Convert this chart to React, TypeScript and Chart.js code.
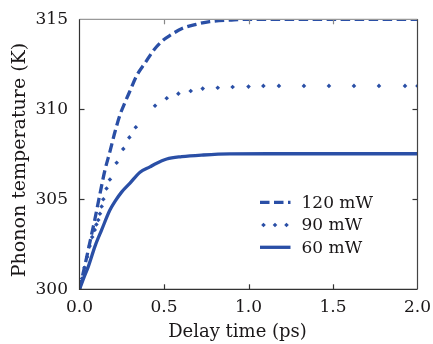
import { useEffect, useRef } from 'react';
import { Chart, registerables } from 'chart.js';

Chart.register(...registerables);

// 120 mW (dashed)
const times120 = [0, 0.03, 0.06, 0.09, 0.12, 0.15, 0.18, 0.21, 0.24, 0.27, 0.3, 0.34, 0.39, 0.44, 0.49, 0.54, 0.61, 0.69, 0.77, 0.9, 1.0, 1.5, 2.0];
const temps120 = [300, 301.25, 302.55, 303.85, 305.25, 306.6, 307.65, 308.75, 309.7, 310.4, 311.05, 311.9, 312.6, 313.3, 313.8, 314.13, 314.5, 314.72, 314.87, 314.96, 315, 315, 315];

// 90 mW (dotted markers)
const times90 = [0, 0.015, 0.03, 0.045, 0.06, 0.075, 0.09, 0.1, 0.111, 0.121, 0.131, 0.141, 0.16, 0.18, 0.22, 0.259, 0.295, 0.333, 0.447, 0.516, 0.585, 0.658, 0.729, 0.818, 0.906, 1.0, 1.088, 1.18, 1.328, 1.476, 1.624, 1.772, 1.926, 2.0];
const temps90 = [300, 300.6, 301.2, 301.8, 302.4, 302.9, 303.3, 303.6, 303.85, 304.2, 304.6, 305.0, 305.6, 306.1, 307.03, 307.8, 308.44, 309.0, 310.2, 310.61, 310.87, 311.02, 311.15, 311.2, 311.24, 311.26, 311.3, 311.3, 311.3, 311.3, 311.3, 311.3, 311.3, 311.3];

// 60 mW (solid)
const times60 = [0, 0.026, 0.052, 0.092, 0.131, 0.18, 0.215, 0.249, 0.299, 0.358, 0.417, 0.447, 0.516, 0.605, 0.733, 0.89, 1.12, 1.5, 2.0];
const temps60 = [300, 300.65, 301.26, 302.4, 303.3, 304.4, 304.95, 305.4, 305.9, 306.5, 306.8, 306.96, 307.24, 307.37, 307.46, 307.52, 307.53, 307.53, 307.53];

const seriesLabels = ['120 mW', '90 mW', '60 mW'];
const xTicks = [0, 0.5, 1.0, 1.5, 2.0];
const yTicks = [300, 305, 310, 315];
const xTitle = 'Delay time (ps)';
const yTitle = 'Phonon temperature (K)';

const BLUE = '#2a4fa6';
const FONT = 'DejaVu Serif';
const TEXT = '#1a1718';

const toPoints = (xs: number[], ys: number[]) => xs.map((x, i) => ({ x, y: ys[i] }));

const framePlugin = {
  id: 'framePlugin',
  afterDatasetsDraw(chart: any) {
    const { ctx, chartArea } = chart;
    const { left, right, top, bottom } = chartArea;
    const xs = chart.scales.x;
    const ys = chart.scales.y;
    ctx.save();
    ctx.lineWidth = 1.2;
    const tl = 5;
    xTicks.slice(1, -1).forEach((v) => {
      const px = Math.round(xs.getPixelForValue(v)) + 0.5;
      ctx.strokeStyle = '#333';
      ctx.beginPath();
      ctx.moveTo(px, bottom);
      ctx.lineTo(px, bottom - tl);
      ctx.stroke();
      ctx.strokeStyle = '#888';
      ctx.beginPath();
      ctx.moveTo(px, top);
      ctx.lineTo(px, top + tl);
      ctx.stroke();
    });
    yTicks.slice(1, -1).forEach((v) => {
      const py = Math.round(ys.getPixelForValue(v)) + 0.5;
      ctx.strokeStyle = '#333';
      ctx.beginPath();
      ctx.moveTo(left, py);
      ctx.lineTo(left + tl, py);
      ctx.stroke();
      ctx.beginPath();
      ctx.moveTo(right, py);
      ctx.lineTo(right - tl, py);
      ctx.stroke();
    });
    ctx.strokeStyle = '#999';
    ctx.beginPath();
    ctx.moveTo(left, top);
    ctx.lineTo(right, top);
    ctx.stroke();
    ctx.strokeStyle = '#444';
    ctx.beginPath();
    ctx.moveTo(right, top);
    ctx.lineTo(right, bottom);
    ctx.stroke();
    ctx.strokeStyle = '#333';
    ctx.beginPath();
    ctx.moveTo(left, top);
    ctx.lineTo(left, bottom);
    ctx.lineTo(right, bottom);
    ctx.stroke();

    // legend
    const lx0 = right - 157.5;
    const lx1 = right - 127;
    const tx = right - 116;
    const rows = [top + 183, top + 205.7, top + 228];
    chart.data.datasets.forEach((ds: any, i: number) => {
      const y = rows[i];
      ctx.strokeStyle = ds.borderColor;
      ctx.fillStyle = ds.borderColor;
      if (ds.showLine === false) {
        [lx0 + 3.5, lx0 + 15, lx0 + 26.5].forEach((cx) => {
          const r = 2.3;
          ctx.beginPath();
          ctx.moveTo(cx, y - r);
          ctx.lineTo(cx + r, y);
          ctx.lineTo(cx, y + r);
          ctx.lineTo(cx - r, y);
          ctx.closePath();
          ctx.fill();
        });
      } else {
        ctx.lineWidth = ds.borderWidth;
        ctx.setLineDash(ds.borderDash || []);
        ctx.beginPath();
        ctx.moveTo(lx0, y);
        ctx.lineTo(lx1, y);
        ctx.stroke();
        ctx.setLineDash([]);
      }
      ctx.fillStyle = TEXT;
      ctx.font = `17px "${FONT}"`;
      ctx.textBaseline = 'middle';
      ctx.textAlign = 'left';
      ctx.fillText(ds.label, tx, y + 1);
    });

    // axis titles
    ctx.fillStyle = TEXT;
    ctx.textAlign = 'center';
    ctx.textBaseline = 'alphabetic';
    ctx.font = `18px "${FONT}"`;
    ctx.fillText(xTitle, 237.5, 337);

    ctx.save();
    ctx.translate(25, 160);
    ctx.rotate(-Math.PI / 2);
    ctx.font = `19px "${FONT}"`;
    ctx.fillText(yTitle, 0, 0);
    ctx.restore();

    ctx.restore();
  },
};

export default function App() {
  const ref = useRef<HTMLCanvasElement | null>(null);
  useEffect(() => {
    document.body.style.margin = '0';
    if (!ref.current) return;
    const chart = new Chart(ref.current, {
      type: 'line',
      data: {
        datasets: [
          {
            label: seriesLabels[0],
            data: toPoints(times120, temps120),
            borderColor: BLUE,
            borderWidth: 3.3,
            borderDash: [9.5, 4.5],
            pointRadius: 0,
            cubicInterpolationMode: 'monotone',
            order: 1,
          },
          {
            label: seriesLabels[1],
            data: toPoints(times90, temps90),
            borderColor: BLUE,
            backgroundColor: BLUE,
            showLine: false,
            pointRadius: 2.3,
            pointBorderWidth: 0,
            pointStyle: 'rectRot',
            order: 2,
          },
          {
            label: seriesLabels[2],
            data: toPoints(times60, temps60),
            borderColor: BLUE,
            borderWidth: 3.3,
            pointRadius: 0,
            cubicInterpolationMode: 'monotone',
            order: 3,
          },
        ],
      } as any,
      options: {
        animation: false,
        responsive: false,
        maintainAspectRatio: false,
        layout: { padding: { left: 0, right: 15.5, top: 19.3, bottom: 0 } },
        plugins: { legend: { display: false }, tooltip: { enabled: false } },
        font: { family: FONT },
        scales: {
          x: {
            type: 'linear',
            min: 0,
            max: 2,
            grid: { display: false, drawTicks: false },
            border: { display: false },
            afterFit: (s: any) => { s.height = 54.7; },
            afterBuildTicks: (s: any) => { s.ticks = xTicks.map((v) => ({ value: v })); },
            ticks: {
              padding: 0,
              color: TEXT,
              font: { family: FONT, size: 17, lineHeight: 2.2 },
              callback: (v: any) => Number(v).toFixed(1),
              maxRotation: 0,
            },
            title: { display: false },
          },
          y: {
            type: 'linear',
            min: 300,
            max: 315,
            grid: { display: false, drawTicks: false },
            border: { display: false },
            afterFit: (s: any) => { s.width = 79.5; },
            afterBuildTicks: (s: any) => { s.ticks = yTicks.map((v) => ({ value: v })); },
            ticks: {
              padding: 11.5,
              color: TEXT,
              font: { family: FONT, size: 17, lineHeight: 0.9 },
              callback: (v: any) => String(v),
            },
            title: { display: false },
          },
        },
      } as any,
      plugins: [framePlugin],
    });
    return () => chart.destroy();
  }, []);
  return (
    <div style={{ width: 433, height: 344 }}>
      <canvas ref={ref} width={433} height={344} style={{ display: 'block', width: 433, height: 344 }} />
    </div>
  );
}
